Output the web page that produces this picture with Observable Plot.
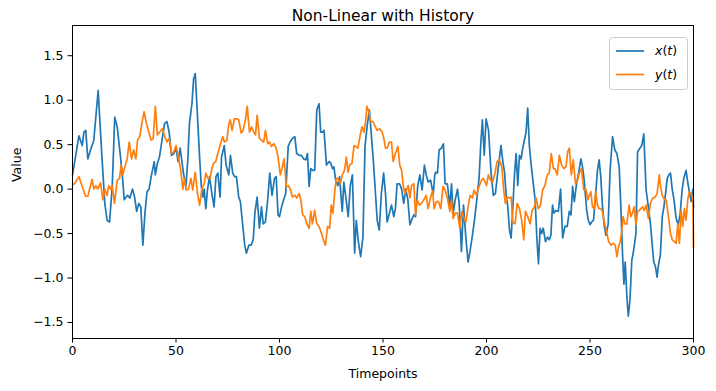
<!DOCTYPE html>
<html>
<head>
<meta charset="utf-8">
<script src="https://cdn.jsdelivr.net/npm/d3@7"></script>
<script src="https://cdn.jsdelivr.net/npm/@observablehq/plot@0.6"></script>
<style>
  html, body { margin: 0; padding: 0; background: white; }
</style>
</head>
<body>
<div id="chart"></div>
<script>
const title = "Non-Linear with History";
const xLabel = "Timepoints";
const yLabel = "Value";
const seriesNames = ["x(t)", "y(t)"];
const xTicks = [0, 50, 100, 150, 200, 250, 300];
const yTicks = [-1.5, -1.0, -0.5, 0.0, 0.5, 1.0, 1.5];

// x(t) readings
const xT = [0,1,3.1,4.7,5.5,6.4,7.4,8.7,10.3,12.4,14.3,15.6,16.7,17.9,19.2,20.4,21.6,23.2,24.2,25,26.6,27.7,29,30,31,32,33,34,35,36,37,38,39.5,40,41,42,43.5,44.5,45.6,46.7,47.8,49,50,51,52,53.6,54.8,55.7,56.5,57.7,58.5,59.3,60.4,61.4,62.2,63,63.6,64.4,65.2,66.2,67.3,68.4,69.3,70.2,71.3,72,73.3,74.2,75.5,76.3,77.4,78.3,79.2,80.3,81.1,82.3,83.2,84,85.2,86.3,87.3,88.1,89.2,90.3,91.3,92.1,93.2,94.3,95.3,96.4,97.6,98.4,99.3,100,101,102,103,104.2,105.1,106.2,107.4,108.3,109.5,110.6,111.6,112.7,113.5,114.3,115.1,116,117,118,119.1,119.9,120.7,121.5,122.7,124,124.8,125.6,126.3,127.1,128.2,129,130.3,131.1,132.2,133.2,134.2,135.2,136.3,137.1,138.1,139.2,140.3,141.3,142.4,143.4,144.3,145.3,146.3,147.2,148.2,149.2,150.3,151.2,152,153.1,154.1,155.2,156,156.8,158,159,160,161,162,163,163.8,164.9,165.7,166.8,167.8,168.9,170,170.9,171.8,173,173.8,174.3,175,175.5,176.3,177.1,178.2,179.2,180,181.1,182.3,183.1,183.9,184.9,186,186.8,187.9,188.9,190,191.1,192.1,193.2,194.3,195.3,196.4,197.2,198,198.9,199.8,201,202.2,203.3,204.3,205.4,206.2,207,207.9,208.7,209.5,210.3,211.1,211.9,212.7,213.5,214.3,215.1,215.9,216.7,217.5,218.3,219.1,219.9,220.7,221.5,222.7,223.5,224.3,225.1,225.9,226.6,227.4,228.5,229.5,230.3,231.1,231.9,232.6,233.5,234.7,235.8,236.8,237.9,239,240,240.8,241.6,242.4,243.5,244.7,245.6,246.4,247.2,248.4,249.2,250,250.8,251.7,252.7,253.6,254.4,255.2,256,256.8,257.7,258.8,259.7,260.9,262,263,264.1,264.9,265.7,266.4,267,267.8,268.5,269.3,270.2,271,272.2,273,274.1,275,276,277.1,278.2,279.2,280,280.8,281.6,282.4,283.1,284,284.9,285.7,286.5,287.3,288.1,288.9,289.7,290.6,291.6,292.6,293.5,294.5,295.3,296.4,297.2,298,298.9,299.7,300];
const xV = [0.16,0.3,0.6,0.49,0.64,0.66,0.34,0.44,0.55,1.11,0.33,-0.16,-0.35,-0.37,0.03,0.81,0.7,0.36,0.12,-0.12,-0.07,-0.1,0.0,-0.09,-0.25,-0.16,-0.2,-0.63,-0.27,-0.03,0.0,0.14,0.31,0.16,0.29,0.36,0.59,0.74,0.76,0.64,0.38,0.4,0.46,0.31,0.46,0.18,0.03,0.33,0.74,0.96,1.24,1.3,0.81,0.36,0.04,-0.09,0.0,-0.22,-0.01,0.14,-0.05,-0.2,0.14,0.18,-0.09,0.36,0.49,0.27,0.16,0.38,0.18,0.14,0.14,-0.09,-0.14,-0.42,-0.63,-0.72,-0.63,-0.63,-0.57,-0.27,-0.09,-0.44,-0.2,-0.39,-0.37,-0.12,0.18,-0.07,0.12,0.14,-0.29,-0.31,-0.2,-0.12,-0.05,0.48,0.53,0.57,0.59,0.4,0.38,0.38,0.34,0.33,0.4,0.03,0.23,0.21,0.21,0.89,0.96,0.64,0.64,0.66,0.27,0.31,0.29,0.23,0.25,0.1,0.04,0.14,-0.25,0.08,-0.12,-0.31,0.04,0.16,-0.72,-0.35,-0.59,-0.76,-0.54,0.48,0.72,0.89,0.63,0.33,-0.03,-0.35,-0.46,-0.05,0.18,-0.05,-0.37,-0.27,-0.18,-0.31,-0.22,0.06,0.06,0.0,-0.16,0.0,-0.12,-0.4,-0.35,-0.29,-0.31,0.04,0.16,-0.01,0.27,0.16,0.08,0.1,0.0,-0.05,0.16,0.19,0.18,0.44,0.46,0.51,0.06,0.06,-0.2,0.06,-0.27,-0.12,0.0,-0.16,-0.7,-0.18,-0.54,-0.82,-0.69,-0.52,-0.33,-0.12,0.12,0.49,0.78,0.38,0.79,0.66,0.18,-0.07,-0.05,0.18,0.34,0.49,0.31,0.19,-0.07,-0.2,-0.46,-0.55,-0.22,0.16,0.4,0.04,0.38,0.34,0.46,0.55,0.64,0.91,0.49,0.29,0.04,-0.12,-0.54,-0.84,-0.44,-0.5,-0.44,-0.59,-0.54,-0.57,-0.52,-0.18,-0.27,-0.24,-0.25,0.0,-0.55,-0.42,-0.42,-0.25,-0.29,0.03,-0.14,0.06,0.21,0.34,0.25,0.1,-0.24,-0.35,-0.4,-0.37,-0.35,-0.07,0.21,0.33,0.14,-0.18,-0.4,-0.52,-0.39,0.21,0.59,0.44,0.4,0.25,-0.2,-0.72,-1.07,-0.82,-1.2,-1.43,-1.25,-0.8,-0.7,-0.5,0.42,0.46,0.49,0.62,-0.01,-0.2,-0.39,-0.61,-0.82,-0.87,-0.99,-0.85,-0.74,-0.31,-0.2,-0.05,0.12,0.16,0.18,0.0,-0.12,-0.33,-0.4,-0.29,-0.01,0.12,0.21,0.08,-0.03,-0.14,0.0,-0.2];

// y(t) readings
const yT = [0,1,3.1,4.7,6.3,7.4,8.7,9.5,10.3,11.3,12.2,13.5,14.7,15.6,16.7,17.5,18.4,19.2,20.3,21.6,22.7,23.5,24.3,25.3,26.4,27.4,28.5,29.5,30.6,31.4,32.5,33.5,34.6,35.7,37,38,39,40,41,42,43.5,44.6,45.6,46.7,47.8,49,50,51,52.3,53.3,54.1,54.9,56,57.2,58.1,59.3,60.4,61.4,62.5,63.6,64.4,65.4,66.5,67.3,68.1,69.2,70.2,71.3,72.5,73.4,74.6,75.4,76.2,77.1,78.2,79.2,80.3,81.5,82.4,83.6,84.4,85.5,86.5,87.6,88.4,89.2,90.3,91.3,92.4,93.2,94.3,95.2,96.1,97.2,98.4,99.3,100.4,101.2,102.2,103.3,104.3,105.4,106.2,107.4,108.3,109.5,110.3,111.2,112.2,113.2,114.3,115.1,115.9,117,118,119.1,120.3,121.2,122.2,123.2,124.2,125,125.8,126.6,127.4,128.2,129.4,130.3,131.4,132.3,133.1,133.9,135,136,136.8,137.9,139,139.8,140.8,141.6,142.2,143.2,144,145.1,146.3,147.2,148.4,149.6,150.4,151.2,152,153.1,154.1,154.9,156,157.2,158.1,159,159.8,160.6,161.4,162.2,163,163.8,164.9,165.7,166.5,167.6,168.6,169.7,170.9,171.8,173,174,174.7,175.8,176.8,177.9,179,180,181.1,182.3,183.1,183.9,184.9,186,187.1,188.1,189.2,190,191.1,192.1,193.2,194,195.2,196.4,197.6,198.4,199.3,200,200.9,201.9,203,204.2,205.1,206.2,207.4,208.3,209.1,210,211.1,211.9,212.7,213.8,214.8,215.9,217,218,218.8,219.9,221.1,222,223.2,224,225,226.1,227.1,228.2,229.4,230.3,231.3,232.3,233.1,234.2,235.2,236.3,237.4,238.4,239.2,240,241,241.9,243,244,244.8,245.9,247,248,249,249.6,250.4,251.2,252,252.8,253.6,254.4,255.2,256,256.9,258,259,260.1,261.2,262.2,263,263.8,264.6,265.4,266,266.8,267.8,268.9,269.7,270.5,271.3,272.2,273,273.8,274.6,275.4,276.2,277.1,278.2,279.2,280.3,281.5,282.4,283.5,284,284.9,286,286.8,287.9,288.9,289.7,290.8,291.6,292.4,293.2,294,294.8,295.6,296.4,297.2,298,298.9,299.7,300];
const yV = [0.05,0.06,0.14,0.03,-0.08,-0.08,0.04,0.11,0.0,0.04,0.0,0.07,-0.12,0.0,-0.07,0.04,0.0,0.04,-0.16,0.1,0.12,0.27,0.16,0.25,0.34,0.53,0.34,0.44,0.34,0.55,0.59,0.74,0.87,0.74,0.63,0.55,0.57,0.93,0.61,0.64,0.68,0.59,0.53,0.57,0.4,0.42,0.49,0.38,0.21,0.0,0.12,-0.01,0.0,0.12,-0.01,0.19,-0.05,-0.18,0.0,0.06,0.18,0.12,0.12,0.23,0.29,0.31,0.4,0.49,0.59,0.53,0.55,0.72,0.78,0.66,0.79,0.79,0.78,0.63,0.66,0.79,0.93,0.64,0.7,0.64,0.61,0.83,0.57,0.55,0.53,0.66,0.51,0.53,0.48,0.51,0.46,0.36,0.16,0.23,0.34,0.03,0.04,-0.01,-0.09,-0.07,-0.1,-0.05,-0.12,-0.29,-0.31,-0.39,-0.44,-0.25,-0.39,-0.24,-0.39,-0.42,-0.5,-0.57,-0.63,-0.42,-0.44,-0.18,-0.27,-0.05,0.12,0.12,0.06,0.16,0.21,0.36,0.19,0.27,0.29,0.49,0.48,0.46,0.61,0.7,0.64,0.76,0.93,0.87,0.76,0.76,0.7,0.66,0.68,0.64,0.57,0.46,0.46,0.53,0.53,0.31,0.4,0.48,0.27,0.21,0.03,-0.05,-0.01,0.04,-0.1,0.04,0.06,-0.29,-0.12,-0.18,-0.16,-0.12,-0.07,-0.22,-0.09,-0.02,-0.22,-0.14,-0.14,-0.22,0.03,-0.01,-0.1,-0.25,-0.12,-0.33,-0.27,-0.27,-0.44,-0.25,-0.33,-0.37,-0.2,-0.07,-0.1,-0.01,-0.07,0.03,0.1,0.12,0.08,0.04,0.16,0.1,0.08,0.19,0.31,0.33,0.25,-0.01,-0.16,-0.09,-0.1,-0.09,-0.37,-0.39,-0.16,-0.22,-0.35,-0.57,-0.25,-0.31,-0.39,-0.24,-0.2,-0.1,-0.22,-0.18,-0.01,0.04,0.16,0.18,0.4,0.23,0.23,0.16,0.38,0.27,0.23,0.25,0.42,0.46,0.16,0.33,0.06,0.1,0.18,0.23,-0.01,0.0,-0.12,-0.07,-0.03,-0.2,-0.22,-0.03,-0.18,-0.22,-0.22,-0.25,-0.37,-0.48,-0.59,-0.63,-0.61,-0.63,-0.76,-0.65,-0.59,-0.46,-0.31,-0.39,-0.39,-0.18,-0.31,-0.27,-0.2,-0.4,-0.25,-0.24,-0.22,-0.2,-0.24,-0.18,-0.33,-0.16,-0.1,-0.09,-0.05,0.16,0.04,-0.07,-0.12,-0.12,-0.31,-0.5,-0.57,-0.59,-0.61,-0.39,-0.61,-0.24,-0.42,-0.22,-0.35,-0.12,-0.03,-0.05,-0.12,-0.66];

const colors = ["#1f77b4", "#ff7f0e"];
const xData = xT.map((t, i) => ({t, v: xV[i]}));
const yData = yT.map((t, i) => ({t, v: yV[i]}));

const font = "'DejaVu Sans', sans-serif";

const chart = Plot.plot({
  width: 716,
  height: 391,
  marginLeft: 72,
  marginRight: 23,
  marginTop: 25,
  marginBottom: 53,
  style: {fontFamily: font, fontSize: "12.5px", color: "black", background: "white", overflow: "visible"},
  x: {domain: [0, 300], label: null},
  y: {domain: [-1.68, 1.84], label: null},
  marks: [
    Plot.line(xData, {x: "t", y: "v", stroke: colors[0], strokeWidth: 1.7, strokeLinejoin: "round"}),
    Plot.line(yData, {x: "t", y: "v", stroke: colors[1], strokeWidth: 1.7, strokeLinejoin: "round"}),
    Plot.frame({stroke: "black", strokeWidth: 1}),
    Plot.axisX({ticks: xTicks, tickSize: 4.5, tickPadding: 3.5, fontSize: 12.5, label: null, tickFormat: d3.format("d")}),
    Plot.axisY({ticks: yTicks, tickSize: 4.5, tickPadding: 4.5, fontSize: 12.5, label: null, tickFormat: d3.format(".1f")}),
    Plot.text([title], {frameAnchor: "top", lineAnchor: "middle", dy: -9, fontSize: 15.5, fill: "black"}),
    Plot.text([xLabel], {frameAnchor: "bottom", lineAnchor: "middle", dy: 35, fontSize: 12.5, fill: "black"}),
    Plot.text([yLabel], {frameAnchor: "left", lineAnchor: "middle", dx: -56, rotate: -90, fontSize: 12.5, fill: "black"})
  ]
});

document.getElementById("chart").appendChild(chart);

// Legend (matplotlib style, upper right)
const svg = d3.select(chart);
const lg = svg.append("g").attr("font-family", font).attr("font-size", 12.5).attr("text-anchor", "start");
lg.append("rect").attr("x", 609.5).attr("y", 37.5).attr("width", 78).attr("height", 52)
  .attr("rx", 3).attr("fill", "white").attr("fill-opacity", 0.8).attr("stroke", "#cccccc");
seriesNames.forEach((name, i) => {
  const yy = 51 + i * 23.5;
  lg.append("line").attr("x1", 616).attr("x2", 644).attr("y1", yy).attr("y2", yy)
    .attr("stroke", colors[i]).attr("stroke-width", 1.7);
  const tx = lg.append("text").attr("x", 655).attr("y", yy).attr("dy", "0.35em")
    .attr("text-anchor", "start").attr("fill", "black");
  tx.append("tspan").attr("font-style", "italic").text(name[0]);
  tx.append("tspan").text("(");
  tx.append("tspan").attr("font-style", "italic").text("t");
  tx.append("tspan").text(")");
});
</script>
</body>
</html>
